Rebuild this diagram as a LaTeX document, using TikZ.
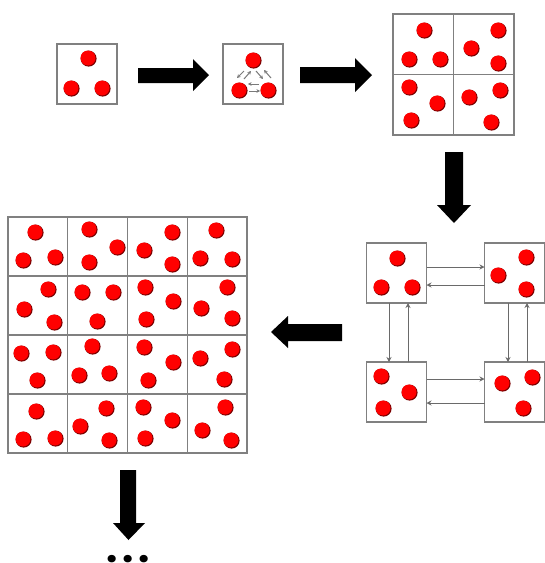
\documentclass[tikz,border=0pt]{standalone}
\usepackage{fontspec}
\setmainfont{Liberation Sans}
\newfontfamily\dotsfont{Poppins}
\usetikzlibrary{arrows.meta}

\definecolor{boxgray}{HTML}{808080}
\definecolor{linkgray}{HTML}{6A6A6A}
\definecolor{minigray}{HTML}{7A7A7A}
\definecolor{dotred}{HTML}{FF0000}
\definecolor{dotrim}{HTML}{7A0000}

\tikzset{
  cell/.style={draw=boxgray, line width=1.3pt, fill=white,
    minimum width=60pt, minimum height=60pt, inner sep=0pt, outer sep=0pt},
  gridcell/.style={cell, minimum width=59.75pt, minimum height=59pt},
  quadcell/.style={cell, minimum width=60.5pt, minimum height=60.5pt},
  link/.style={draw=linkgray, line width=1pt, -{Stealth[length=5pt,width=5pt]}},
  minilink/.style={draw=minigray, line width=1pt, -{Stealth[length=3.6pt,width=3.8pt]}},
  bigarrow/.style={fill=black},
  reddot/.pic={
    \fill[dotrim] (0.6pt,-0.6pt) circle (8pt);
    \fill[dotred] (0,0) circle (7.5pt);
  }
}

\begin{document}
\begin{tikzpicture}[x=1pt, y=-1pt]
\useasboundingbox (0,0) rectangle (545,563);

% single system
\node[cell] (single) at (87,74) {};
\foreach \p in {(88,58),(71,88),(102,88)} \pic at \p {reddot};

% interacting system
\node[cell] (pair) at (253,74) {};
\foreach \p in {(253,60),(239,90),(268,90)} \pic at \p {reddot};
\coordinate (m1a) at (244,71); \coordinate (m1b) at (237,78);
\coordinate (m2a) at (244,79); \coordinate (m2b) at (251,71);
\coordinate (m3a) at (256,71); \coordinate (m3b) at (263,79);
\coordinate (m4a) at (271,78); \coordinate (m4b) at (264,70);
\coordinate (m5a) at (259,84); \coordinate (m5b) at (248,84);
\coordinate (m6a) at (249,91); \coordinate (m6b) at (260,91);
\draw[minilink] (m1a) -- (m1b);
\draw[minilink] (m2a) -- (m2b);
\draw[minilink] (m3a) -- (m3b);
\draw[minilink] (m4a) -- (m4b);
\draw[minilink] (m5a) -- (m5b);
\draw[minilink] (m6a) -- (m6b);

% 2x2 block
\node[quadcell] (q11) at (423.25,44.25) {};
\node[quadcell] (q12) at (483.75,44.25) {};
\node[quadcell] (q21) at (423.25,104.75) {};
\node[quadcell] (q22) at (483.75,104.75) {};
\foreach \p in {(424,30),(409,59),(440,59),
                (498,30),(471,48),(498,63),
                (409,87),(437,103),(411,120),
                (500,90),(469,97),(491,122)} \pic at \p {reddot};

% coupled boxes
\node[cell] (tl) at (396.5,273) {};
\node[cell] (tr) at (514.5,273) {};
\node[cell] (bl) at (396.5,392) {};
\node[cell] (br) at (514.5,392) {};
\foreach \p in {(397,258),(381,287),(412,287),
                (526,257),(498,275),(526,289),
                (381,376),(409,392),(383,408),
                (502,383),(532,377),(523,408)} \pic at \p {reddot};
\draw[link] ([yshift=6pt]tl.east) -- ([yshift=6pt]tr.west);
\draw[link] ([yshift=-12pt]tr.west) -- ([yshift=-12pt]tl.east);
\draw[link] ([yshift=13pt]bl.east) -- ([yshift=13pt]br.west);
\draw[link] ([yshift=-11pt]br.west) -- ([yshift=-11pt]bl.east);
\draw[link] ([xshift=-7.5pt]tl.south) -- ([xshift=-7.5pt]bl.north);
\draw[link] ([xshift=11.5pt]bl.north) -- ([xshift=11.5pt]tl.south);
\draw[link] ([xshift=-6.5pt]tr.south) -- ([xshift=-6.5pt]br.north);
\draw[link] ([xshift=12.5pt]br.north) -- ([xshift=12.5pt]tr.south);

% 4x4 block
\foreach \i in {0,...,3}
  \foreach \j in {0,...,3}
    \node[gridcell] (g\j\i) at ({8+59.75*(\i+0.5)},{217+59*(\j+0.5)}) {};
\foreach \p in {(35,232),(23,260),(55,257),
                (89,229),(117,247),(89,262),
                (172,232),(144,250),(172,264),
                (216,230),(200,258),(232,259),
                (48,289),(24,309),(54,322),
                (82,292),(113,292),(97,321),
                (145,287),(173,301),(146,319),
                (227,287),(201,308),(232,318),
                (21,353),(53,352),(37,380),
                (92,346),(79,375),(109,373),
                (144,347),(173,362),(148,380),
                (200,358),(232,349),(224,379),
                (36,411),(23,439),(55,438),
                (106,408),(80,426),(109,440),
                (143,407),(172,420),(145,438),
                (225,407),(202,430),(231,440)} \pic at \p {reddot};

% block arrows
\fill[bigarrow] (138,68) -- (193,68) -- (193,59) -- (209,75) -- (193,91) -- (193,83) -- (138,83) -- cycle;
\fill[bigarrow] (300,67) -- (355,67) -- (355,58) -- (372,75) -- (355,92) -- (355,83) -- (300,83) -- cycle;
\fill[bigarrow] (445,152) -- (463,152) -- (463,205) -- (471,205) -- (454,223) -- (437,205) -- (445,205) -- cycle;
\fill[bigarrow] (342,324) -- (288,324) -- (288,316) -- (271,332) -- (288,348) -- (288,341) -- (342,341) -- cycle;
\fill[bigarrow] (120,470) -- (136,470) -- (136,523) -- (145,523) -- (128.5,540) -- (113,523) -- (120,523) -- cycle;

% continuation
\node[anchor=base, inner sep=0pt, font=\dotsfont\bfseries\fontsize{40}{44}\selectfont] (more) at (128,562.5) {.\kern4.5pt.\kern4.5pt.};
\end{tikzpicture}
\end{document}
